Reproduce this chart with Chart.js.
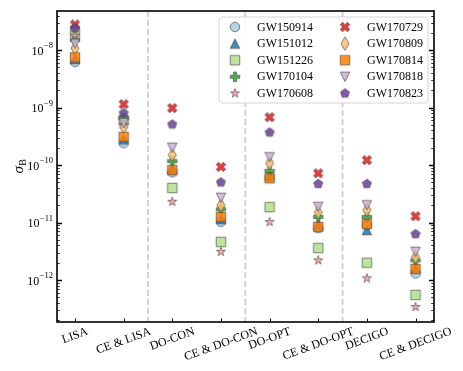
<!DOCTYPE html>
<html>
<head>
<meta charset="utf-8">
<script src="https://cdn.jsdelivr.net/npm/chart.js@4.4.1/dist/chart.umd.min.js"></script>
<style>
  html, body { margin: 0; padding: 0; background: #ffffff; }
  #wrap { width: 463px; height: 371px; }
</style>
</head>
<body>
<div id="wrap"><canvas id="sigma_chart" width="463" height="371"></canvas></div>
<script>
// detector configurations on the x axis
const detectors = ["LISA", "CE & LISA", "DO-CON", "CE & DO-CON", "DO-OPT", "CE & DO-OPT", "DECIGO", "CE & DECIGO"]

const events = ["GW150914", "GW151012", "GW151226", "GW170104", "GW170608", "GW170729", "GW170809", "GW170814", "GW170818", "GW170823"]

// sigma_B for each event, one value per detector
const gw150914 = [6.2e-9, 2.4e-10, 7.5e-11, 1.03e-11, 6.2e-11, 8.0e-12, 9.0e-12, 1.3e-12]
const gw151012 = [7.0e-9, 2.8e-10, 8.5e-11, 1.15e-11, 6.5e-11, 9.0e-12, 7.4e-12, 1.6e-12]
const gw151226 = [2.05e-8, 6.0e-10, 4.0e-11, 4.6e-12, 1.86e-11, 3.6e-12, 2.0e-12, 5.5e-13]
const gw170104 = [1.5e-8, 6.6e-10, 1.17e-10, 1.7e-11, 7.9e-11, 1.25e-11, 1.25e-11, 2.2e-12]
const gw170608 = [1.8e-8, 5.0e-10, 2.3e-11, 3.1e-12, 1.02e-11, 2.2e-12, 1.07e-12, 3.4e-13]
const gw170729 = [2.8e-8, 1.15e-9, 9.8e-10, 9.3e-11, 6.8e-10, 7.2e-11, 1.22e-10, 1.29e-11]
const gw170809 = [1.08e-8, 4.6e-10, 1.5e-10, 2.0e-11, 1.08e-10, 1.5e-11, 1.65e-11, 2.5e-12]
const gw170814 = [7.5e-9, 3.1e-10, 8.2e-11, 1.25e-11, 5.9e-11, 8.4e-12, 9.4e-12, 1.56e-12]
const gw170818 = [1.3e-8, 5.4e-10, 2.0e-10, 2.7e-11, 1.37e-10, 1.87e-11, 2.0e-11, 3.1e-12]
const gw170823 = [2.4e-8, 8.0e-10, 5.1e-10, 5.0e-11, 3.7e-10, 4.7e-11, 4.7e-11, 6.3e-12]

const seriesValues = [gw150914, gw151012, gw151226, gw170104, gw170608, gw170729, gw170809, gw170814, gw170818, gw170823]

const yTickExponents = [-12, -11, -10, -9, -8]

const markerColors = ["#a6cee3", "#1f78b4", "#b2df8a", "#33a02c", "#fb9a99", "#e31a1c", "#fdbf6f", "#ff7f00", "#cab2d6", "#6a3d9a"]
const markerShapes = ["o", "^", "s", "P", "*", "X", "d", "s", "v", "p"]

const MARKER_SIZE = 9.5
const SERIF = '"Liberation Serif", "DejaVu Serif", serif'

function makeMarker(shape, color) {
  const c = document.createElement("canvas")
  c.width = 18
  c.height = 18
  const ctx = c.getContext("2d")
  const h = MARKER_SIZE / 2
  ctx.translate(9, 9)
  ctx.beginPath()
  const poly = (pts, k) => {
    pts.forEach(([x, y], i) => {
      if (i === 0) ctx.moveTo(x * h * k, y * h * k)
      else ctx.lineTo(x * h * k, y * h * k)
    })
    ctx.closePath()
  }
  const regular = (n, inner) => {
    const pts = []
    const steps = inner ? n * 2 : n
    for (let i = 0; i < steps; i++) {
      const a = -Math.PI / 2 + (i * Math.PI * 2) / steps
      const r = inner && i % 2 === 1 ? inner : 1
      pts.push([r * Math.cos(a), r * Math.sin(a)])
    }
    poly(pts, 1)
  }
  switch (shape) {
    case "o":
      ctx.arc(0, 0, h, 0, Math.PI * 2)
      break
    case "^":
      poly([[0, -1], [-1, 1], [1, 1]], 1)
      break
    case "v":
      poly([[0, 1], [-1, -1], [1, -1]], 1)
      break
    case "s":
      poly([[-1, -1], [1, -1], [1, 1], [-1, 1]], 1)
      break
    case "d":
      poly([[0, -1.414], [0.849, 0], [0, 1.414], [-0.849, 0]], 1)
      break
    case "P":
      poly([[-1, -3], [1, -3], [1, -1], [3, -1], [3, 1], [1, 1], [1, 3], [-1, 3], [-1, 1], [-3, 1], [-3, -1], [-1, -1]], 1 / 3)
      break
    case "X":
      poly([[-1, -2], [0, -1], [1, -2], [2, -1], [1, 0], [2, 1], [1, 2], [0, 1], [-1, 2], [-2, 1], [-1, 0], [-2, -1]], 1 / 2)
      break
    case "*":
      regular(5, 0.381966)
      break
    case "p":
      regular(5, 0)
      break
  }
  ctx.globalAlpha = 0.85
  ctx.fillStyle = color
  ctx.fill()
  ctx.lineWidth = 0.8
  ctx.strokeStyle = "#4a4a4a"
  ctx.stroke()
  return c
}

const markerImages = markerShapes.map((s, i) => makeMarker(s, markerColors[i]))

const decorPlugin = {
  id: "decor",
  beforeDatasetsDraw(chart) {
    const { ctx, chartArea, scales } = chart
    ctx.save()
    ctx.strokeStyle = "#d3d3d3"
    ctx.lineWidth = 2
    ctx.setLineDash([6, 3])
    // separators between the detector pairs
    for (let i = 1; i < detectors.length - 1; i += 2) {
      const x = scales.x.getPixelForValue(i + 0.5)
      ctx.beginPath()
      ctx.moveTo(x, chartArea.top)
      ctx.lineTo(x, chartArea.bottom)
      ctx.stroke()
    }
    ctx.restore()
  },
  afterDatasetsDraw(chart) {
    const { ctx, chartArea, scales } = chart
    const { left, right, top, bottom } = chartArea
    const yScale = scales.y
    const xScale = scales.x
    ctx.save()

    // y ticks, inward on both sides
    ctx.strokeStyle = "#000000"
    for (let k = -13; k <= -8; k++) {
      for (let m = 1; m <= 9; m++) {
        const v = m * Math.pow(10, k)
        if (v < yScale.min || v > yScale.max) continue
        const y = Math.round(yScale.getPixelForValue(v)) + 0.5
        const len = m === 1 ? 5 : 2.8
        ctx.lineWidth = m === 1 ? 1.3 : 0.8
        ctx.beginPath()
        ctx.moveTo(left, y)
        ctx.lineTo(left + len, y)
        ctx.moveTo(right, y)
        ctx.lineTo(right - len, y)
        ctx.stroke()
      }
    }
    // x ticks, inward
    ctx.lineWidth = 1
    detectors.forEach((_, i) => {
      const x = Math.round(xScale.getPixelForValue(i)) + 0.5
      ctx.beginPath()
      ctx.moveTo(x, bottom)
      ctx.lineTo(x, bottom - 3.5)
      ctx.stroke()
    })

    // frame
    ctx.lineWidth = 1.6
    ctx.strokeRect(left, top, right - left, bottom - top)

    // y tick labels 10^k
    ctx.fillStyle = "#000000"
    ctx.textBaseline = "alphabetic"
    ctx.textAlign = "left"
    yTickExponents.forEach((e) => {
      const y = yScale.getPixelForValue(Math.pow(10, e))
      const expText = "\u2212" + Math.abs(e)
      ctx.font = "8.5px " + SERIF
      const expW = ctx.measureText(expText).width
      ctx.font = "12px " + SERIF
      const baseW = ctx.measureText("10").width
      const xr = left - 4
      ctx.fillText("10", xr - expW - baseW - 0.5, y + 4.5)
      ctx.font = "8.5px " + SERIF
      ctx.fillText(expText, xr - expW, y - 2)
    })

    // x tick labels, rotated and centred on the tick
    ctx.font = "12px " + SERIF
    ctx.textAlign = "center"
    ctx.textBaseline = "middle"
    const rot = (20 * Math.PI) / 180
    detectors.forEach((label, i) => {
      const w = ctx.measureText(label).width
      const half = (w * Math.sin(rot) + 11 * Math.cos(rot)) / 2
      const x = xScale.getPixelForValue(i)
      const y = bottom + 4 + half
      ctx.save()
      ctx.translate(x, y)
      ctx.rotate(-rot)
      ctx.fillText(label, 0, 0)
      ctx.restore()
    })

    // y axis title sigma_B
    ctx.save()
    ctx.translate(19, (top + bottom) / 2)
    ctx.rotate(-Math.PI / 2)
    ctx.textAlign = "left"
    ctx.textBaseline = "alphabetic"
    ctx.font = "italic 15px " + SERIF
    const sw = ctx.measureText("\u03c3").width
    ctx.font = "10px " + SERIF
    const bw = ctx.measureText("B").width
    const x0 = -(sw + bw) / 2
    ctx.font = "italic 15px " + SERIF
    ctx.fillText("\u03c3", x0, 4)
    ctx.font = "10px " + SERIF
    ctx.fillText("B", x0 + sw + 0.5, 7)
    ctx.restore()

    // legend
    const bx = 219
    const by = top + 6
    const bwid = right - 6 - bx
    const bh = 86
    ctx.beginPath()
    ctx.roundRect(bx, by, bwid, bh, 3)
    ctx.fillStyle = "rgba(255,255,255,0.85)"
    ctx.fill()
    ctx.lineWidth = 1
    ctx.strokeStyle = "#d6d6d6"
    ctx.stroke()
    ctx.font = "12px " + SERIF
    ctx.fillStyle = "#000000"
    ctx.textAlign = "left"
    ctx.textBaseline = "middle"
    events.forEach((name, i) => {
      const col = Math.floor(i / 5)
      const row = i % 5
      const mx = bx + 16 + col * 110
      const my = by + 10 + row * 16.6
      const img = markerImages[i]
      ctx.drawImage(img, mx - img.width / 2, my - img.height / 2)
      ctx.fillText(name, mx + 22, my + 0.5)
    })
    ctx.restore()
  },
}

new Chart(document.getElementById("sigma_chart"), {
  type: "scatter",
  data: {
    datasets: events.map((name, i) => ({
      label: name,
      data: seriesValues[i].map((v, j) => ({ x: j, y: v })),
      pointStyle: markerImages[i],
      pointRadius: 5,
      order: events.length - i,
    })),
  },
  options: {
    responsive: false,
    animation: false,
    devicePixelRatio: 1,
    layout: {
      padding: { left: 57, right: 29, top: 11, bottom: 49 },
    },
    scales: {
      x: { type: "linear", min: -0.37, max: 7.38, display: false },
      y: { type: "logarithmic", min: 1.86e-13, max: 4.8e-8, display: false },
    },
    plugins: {
      legend: { display: false },
      tooltip: { enabled: false },
    },
  },
  plugins: [decorPlugin],
})
</script>
</body>
</html>
